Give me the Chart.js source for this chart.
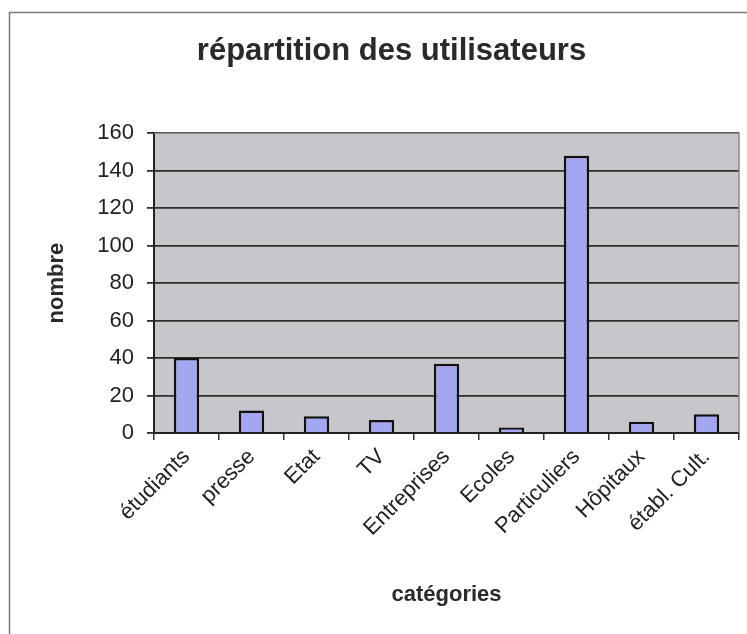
<!DOCTYPE html>
<html>
<head>
<meta charset="utf-8">
<script src="https://cdn.jsdelivr.net/npm/chart.js@4.4.0/dist/chart.umd.min.js"></script>
<style>
  html, body { margin: 0; padding: 0; background: #fff; }
  #wrap { width: 747px; height: 634px; }
</style>
</head>
<body>
<div id="wrap"><canvas id="chart" width="747" height="634"></canvas></div>
<script>
// valeurs
const categories = ['étudiants', 'presse', 'Etat', 'TV', 'Entreprises', 'Ecoles', 'Particuliers', 'Hôpitaux', 'établ. Cult.'];
const nombres = [40, 12, 9, 7, 37, 3, 148, 6, 10];
const yMin = 0;
const yMax = 160;
const yStep = 20;

const FONT = "'Liberation Sans', Arial, sans-serif";

// fond gris de la zone de tracé + cadre extérieur
const frame = {
  id: 'frame',
  beforeDraw(chart) {
    const { ctx, chartArea: a } = chart;
    ctx.save();
    ctx.fillStyle = '#ffffff';
    ctx.fillRect(0, 0, chart.width, chart.height);
    ctx.strokeStyle = '#7a7a7a';
    ctx.lineWidth = 1.5;
    ctx.beginPath();
    ctx.moveTo(9.5, chart.height);
    ctx.lineTo(9.5, 12.5);
    ctx.lineTo(chart.width, 12.5);
    ctx.stroke();
    ctx.fillStyle = '#c7c7cb';
    ctx.fillRect(a.left, a.top, a.right - a.left, a.bottom - a.top);
    ctx.restore();
  },
  afterDraw(chart) {
    const { ctx, chartArea: a } = chart;
    ctx.save();
    ctx.strokeStyle = '#8a8a8a';
    ctx.lineWidth = 1.5;
    ctx.beginPath();
    ctx.moveTo(a.left, a.top);
    ctx.lineTo(a.right, a.top);
    ctx.lineTo(a.right, a.bottom);
    ctx.stroke();
    ctx.restore();
  }
};

new Chart(document.getElementById('chart'), {
  type: 'bar',
  data: {
    labels: categories,
    datasets: [{
      data: nombres,
      backgroundColor: '#a2a7ef',
      borderColor: '#111111',
      borderWidth: 2.5,
      barPercentage: 0.39,
      categoryPercentage: 1
    }]
  },
  options: {
    responsive: false,
    animation: false,
    layout: { padding: { left: 44, right: 8, top: 0, bottom: 26 } },
    plugins: {
      legend: { display: false },
      tooltip: { enabled: false },
      title: {
        display: true,
        text: 'répartition des utilisateurs',
        color: '#2a2a2a',
        font: { family: FONT, size: 31, weight: 'bold' },
        padding: { top: 33, bottom: 63 }
      }
    },
    scales: {
      x: {
        offset: true,
        grid: { display: true, drawOnChartArea: false, color: '#333', lineWidth: 1.5, tickLength: 7, offset: true },
        border: { color: '#222', width: 2 },
        ticks: {
          color: '#222',
          font: { family: FONT, size: 22 },
          maxRotation: 45,
          minRotation: 45,
          padding: 4,
          autoSkip: false
        },
        title: {
          display: true,
          text: 'catégories',
          color: '#2a2a2a',
          font: { family: FONT, size: 22, weight: 'bold' },
          padding: { top: 0, bottom: 0 }
        },
        afterFit(scale) { scale.height = 175; }
      },
      y: {
        min: yMin,
        max: yMax,
        grid: { color: '#2e2e2e', lineWidth: 1.8, tickLength: 7 },
        border: { color: '#222', width: 2 },
        ticks: {
          stepSize: yStep,
          color: '#222',
          font: { family: FONT, size: 22 },
          padding: 13
        },
        title: {
          display: true,
          text: 'nombre',
          color: '#2a2a2a',
          font: { family: FONT, size: 22, weight: 'bold' },
          padding: { top: 0, bottom: 0 }
        },
        afterFit(scale) { scale.width = 110; }
      }
    }
  },
  plugins: [frame]
});
</script>
</body>
</html>
